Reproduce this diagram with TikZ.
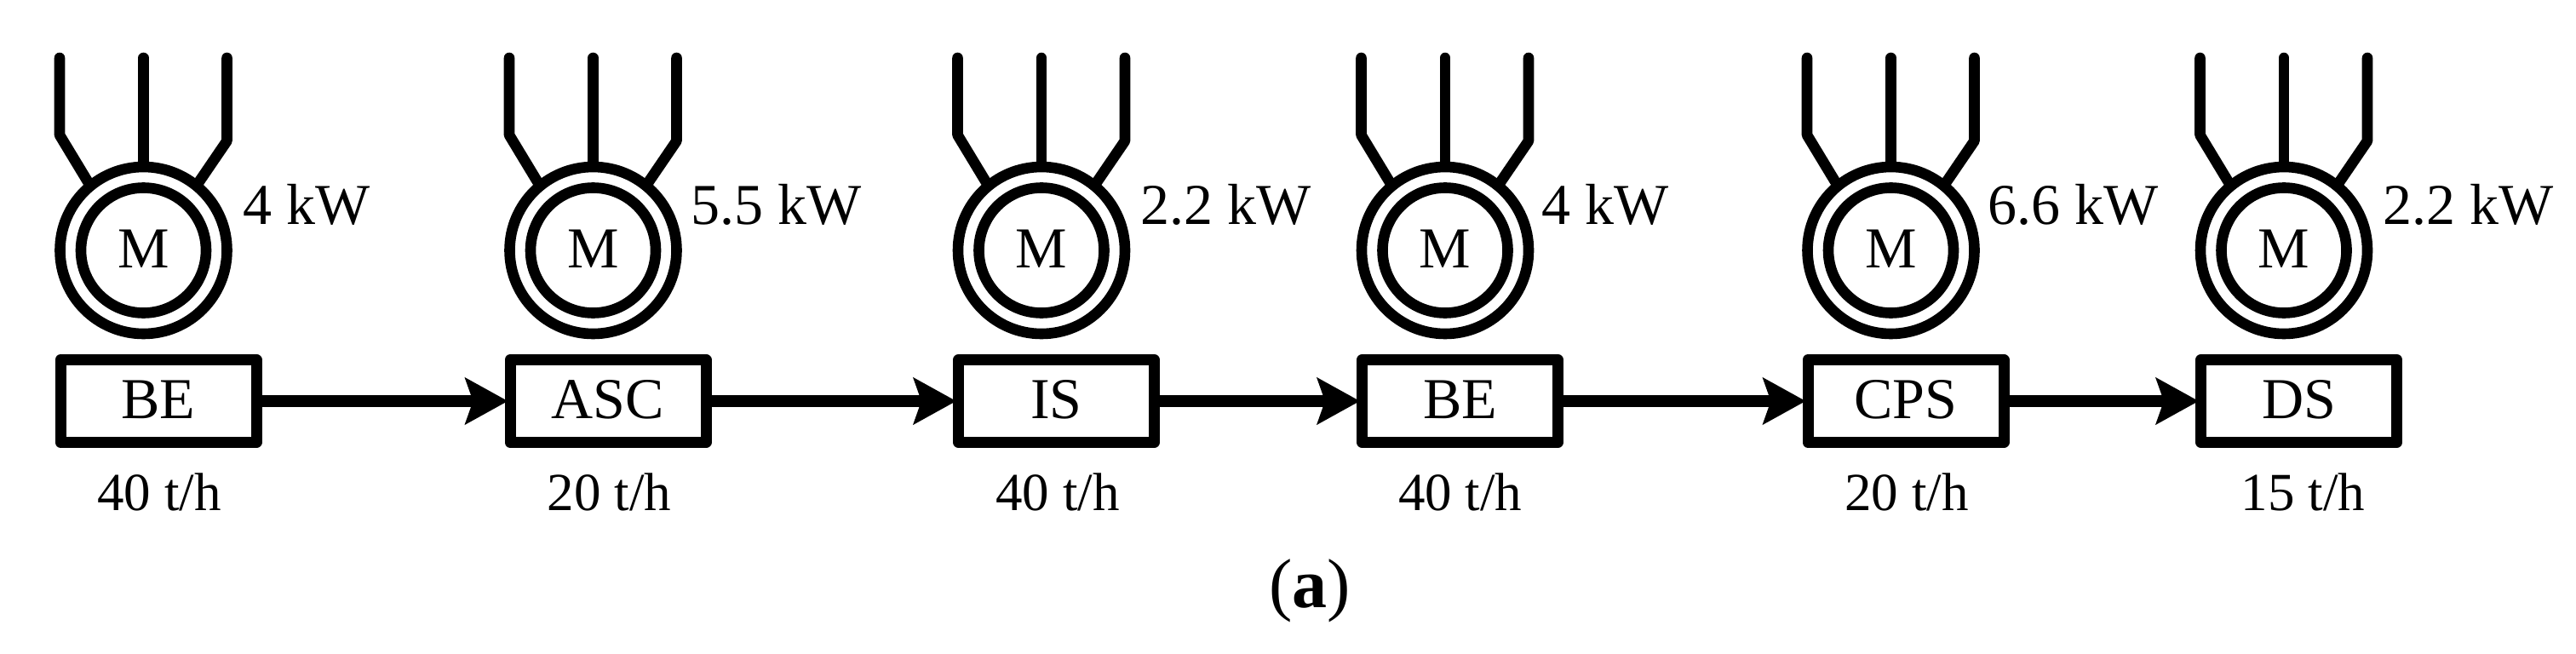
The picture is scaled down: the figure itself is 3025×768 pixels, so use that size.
\documentclass[tikz,border=0pt]{standalone}
\usepackage{fontspec}
\setmainfont{Liberation Serif}
\usetikzlibrary{arrows.meta}
\tikzset{
  outerring/.style={draw=black,circle,line width=12.6pt,minimum size=196pt,inner sep=0pt},
  innerring/.style={draw=black,circle,line width=12.6pt,minimum size=147pt,inner sep=0pt,
    font=\fontsize{68}{80}\selectfont,text height=40pt,text depth=0pt},
  lead/.style={draw=black,line width=12.6pt,line cap=round,line join=round},
  machine/.style={draw=black,rectangle,line width=13pt,line join=round,minimum width=230pt,minimum height=97pt,
    inner sep=0pt,font=\fontsize{68}{80}\selectfont,text height=40pt,text depth=0pt},
  flow/.style={draw=black,line width=13.4pt,shorten >=-4pt,-{Stealth[length=50pt,width=54pt,inset=9pt]}},
  power/.style={anchor=base,inner sep=0pt,font=\fontsize{68}{80}\selectfont},
  rate/.style={anchor=base,inner sep=0pt,font=\fontsize{63}{75}\selectfont},
  caption/.style={anchor=base,inner sep=0pt,font=\fontsize{82}{100}\selectfont}
}
\begin{document}
\begin{tikzpicture}[x=1pt,y=-1pt]
\useasboundingbox[fill=white] (0,0) rectangle (3025,768);
\foreach \i/\o/\kwx/\kw/\lab/\rx/\rt in {
  1/0/360.5/4 kW/BE/187/40 t\slash h,
  2/528/911.5/5.5 kW/ASC/715.6/20 t\slash h,
  3/1054.5/1440/2.2 kW/IS/1242/40 t\slash h,
  4/1528.5/1885/4 kW/BE/1714.7/40 t\slash h,
  5/2052/2434.5/6.6 kW/CPS/2239/20 t\slash h,
  6/2513.5/2899/2.2 kW/DS/2704.5/15 t\slash h}{
  \node[outerring] (out\i) at (168.5+\o,294) {};
  \node[innerring] (in\i) at (168.5+\o,294) {M};
  \coordinate (la\i) at (70+\o,68);
  \coordinate (lb\i) at (70+\o,158.6);
  \coordinate (ma\i) at (168.5+\o,68);
  \coordinate (ra\i) at (266.5+\o,68);
  \coordinate (rb\i) at (266.5+\o,165.5);
  \draw[lead] (la\i) -- (lb\i) -- (out\i.129);
  \draw[lead] (ma\i) -- (out\i.90);
  \draw[lead] (ra\i) -- (rb\i) -- (out\i.51);
  \node[power] (kw\i) at (\kwx,263) {\kw};
  \node[machine] (box\i) at (186+\o,471) {\lab};
  \node[rate] (rate\i) at (\rx,599) {\rt};
}
\foreach \a/\b in {1/2,2/3,3/4,4/5,5/6}{
  \draw[flow] (box\a.east) -- (box\b.west);
}
\node[caption] (cap) at (1538,713) {(\textbf{a})};
\end{tikzpicture}
\end{document}
